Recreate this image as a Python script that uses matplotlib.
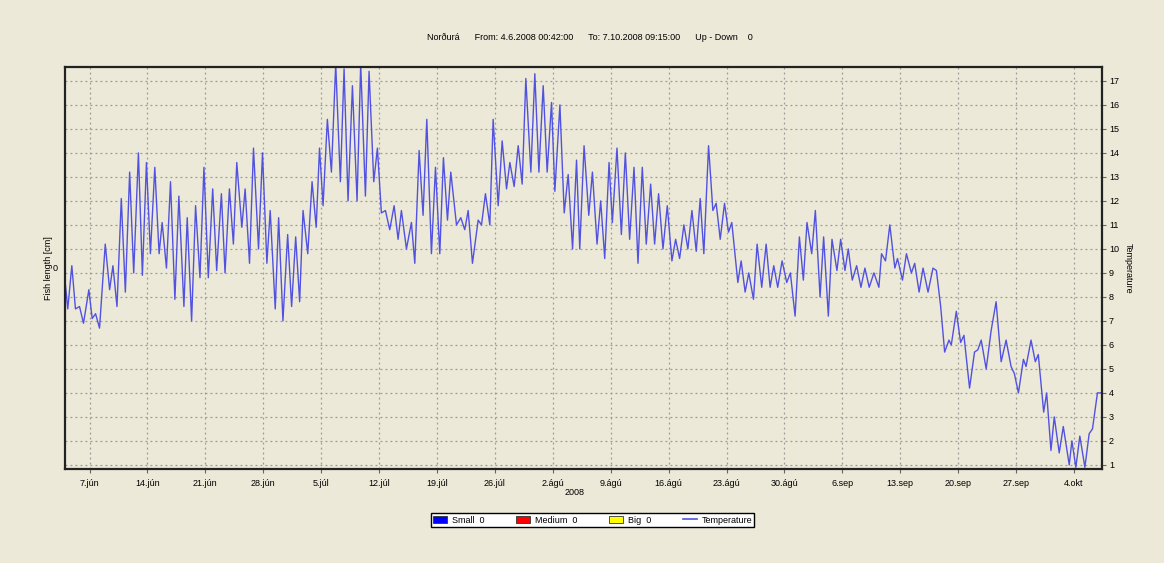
#!/usr/bin/env python3
import matplotlib
matplotlib.use("Agg")
import matplotlib.pyplot as plt
import matplotlib.dates as mdates
from matplotlib.patches import Patch
from matplotlib.lines import Line2D
import pandas as pd

# Temperature readings: days since 4.6.2008 00:00 and value
DAYS = [
    0.03, 0.37, 0.86, 1.30, 1.79, 2.27, 2.92, 3.32, 3.73, 4.21,
    4.90, 5.43, 5.83, 6.32, 6.84, 7.33, 7.85, 8.34, 8.91, 9.39,
    9.88, 10.36, 10.89, 11.41, 11.78, 12.30, 12.79, 13.32, 13.80, 14.41,
    14.81, 15.34, 15.82, 16.35, 16.83, 17.36, 17.89, 18.37, 18.94, 19.38,
    19.91, 20.39, 20.80, 21.41, 21.81, 22.34, 22.82, 23.43, 23.91, 24.44,
    24.84, 25.45, 25.86, 26.38, 26.95, 27.43, 27.92, 28.40, 28.81, 29.38,
    29.90, 30.40, 30.80, 31.23, 31.75, 32.24, 32.76, 33.32, 33.77, 34.25,
    34.78, 35.34, 35.78, 36.35, 36.79, 37.36, 37.80, 38.28, 38.77, 39.29,
    39.82, 40.30, 40.70, 41.31, 41.91, 42.32, 42.84, 43.32, 43.77, 44.33,
    44.82, 45.34, 45.78, 46.27, 46.67, 47.36, 47.88, 48.36, 48.77, 49.29,
    49.98, 50.38, 50.86, 51.39, 51.79, 52.40, 52.88, 53.41, 53.81, 54.33,
    54.82, 55.30, 55.74, 56.35, 56.83, 57.32, 57.84, 58.32, 58.85, 59.25,
    59.86, 60.38, 60.86, 61.39, 61.87, 62.26, 62.78, 63.35, 63.79, 64.35,
    64.79, 65.28, 65.80, 66.20, 66.76, 67.29, 67.77, 68.29, 68.82, 69.30,
    69.82, 70.30, 70.83, 71.31, 71.79, 72.32, 72.84, 73.40, 73.85, 74.33,
    74.85, 75.33, 75.82, 76.34, 76.82, 77.26, 77.83, 78.35, 78.75, 79.24,
    79.76, 80.24, 80.64, 81.37, 81.77, 82.25, 82.69, 83.26, 83.70, 84.26,
    84.79, 85.27, 85.71, 86.19, 86.72, 87.28, 87.72, 88.29, 88.81, 89.29,
    89.73, 90.30, 90.74, 91.31, 91.74, 92.31, 92.75, 93.35, 93.80, 94.32,
    94.72, 95.20, 95.73, 96.25, 96.73, 97.25, 97.82, 98.42, 98.74, 99.22,
    99.74, 100.35, 100.67, 101.27, 101.75, 102.35, 102.75, 103.28, 103.76, 104.36,
    104.96, 105.37, 105.89, 106.37, 106.89, 107.17, 107.78, 108.30, 108.70, 109.38,
    109.98, 110.39, 110.79, 111.39, 111.99, 112.59, 113.20, 113.80, 114.40, 114.80,
    115.29, 115.89, 116.21, 116.81, 117.33, 117.69, 118.34, 118.70, 119.22, 119.62,
    120.22, 120.71, 121.43, 121.75, 122.23, 122.71, 123.32, 123.84, 124.24, 124.84,
    125.38,
]
TEMPS = [
    8.7, 7.5, 9.3, 7.5, 7.6, 6.9, 8.3, 7.1, 7.3, 6.7,
    10.2, 8.3, 9.3, 7.6, 12.1, 8.2, 13.2, 9.0, 14.0, 8.9,
    13.6, 9.8, 13.4, 9.8, 11.1, 9.2, 12.8, 7.9, 12.2, 7.6,
    11.3, 7.0, 11.8, 8.8, 13.4, 8.8, 12.5, 9.1, 12.3, 9.0,
    12.5, 10.2, 13.6, 10.9, 12.5, 9.4, 14.2, 10.0, 14.0, 9.4,
    11.6, 7.5, 11.3, 7.0, 10.6, 7.6, 10.5, 7.8, 11.6, 9.8,
    12.8, 10.9, 14.2, 11.8, 15.4, 13.2, 17.7, 12.8, 17.5, 12.0,
    16.8, 12.0, 17.7, 12.2, 17.4, 12.8, 14.2, 11.5, 11.6, 10.8,
    11.8, 10.4, 11.6, 10.0, 11.1, 9.4, 14.1, 11.4, 15.4, 9.8,
    13.4, 9.8, 13.8, 11.2, 13.2, 11.0, 11.3, 10.8, 11.6, 9.4,
    11.2, 11.0, 12.3, 11.0, 15.4, 11.8, 14.5, 12.5, 13.6, 12.6,
    14.3, 12.7, 17.1, 13.2, 17.3, 13.2, 16.8, 13.2, 16.1, 12.4,
    16.0, 11.5, 13.1, 10.0, 13.7, 10.0, 14.3, 11.4, 13.2, 10.2,
    12.0, 9.6, 13.6, 11.1, 14.2, 10.6, 14.0, 10.4, 13.4, 9.4,
    13.4, 10.2, 12.7, 10.2, 12.3, 10.0, 11.8, 9.5, 10.4, 9.6,
    11.0, 10.0, 11.6, 9.9, 12.1, 9.8, 14.3, 11.6, 11.9, 10.4,
    11.9, 10.7, 11.1, 8.6, 9.5, 8.2, 9.0, 7.9, 10.2, 8.4,
    10.2, 8.4, 9.3, 8.4, 9.5, 8.6, 9.0, 7.2, 10.5, 8.7,
    11.1, 9.8, 11.6, 8.0, 10.5, 7.2, 10.4, 9.1, 10.4, 9.1,
    10.0, 8.7, 9.3, 8.4, 9.2, 8.4, 9.0, 8.4, 9.8, 9.5,
    11.0, 9.2, 9.6, 8.7, 9.8, 9.0, 9.4, 8.2, 9.2, 8.2,
    9.2, 9.1, 7.6, 5.7, 6.2, 6.0, 7.4, 6.1, 6.4, 4.2,
    5.7, 5.8, 6.2, 5.0, 6.6, 7.8, 5.3, 6.2, 5.1, 4.8,
    4.0, 5.4, 5.1, 6.2, 5.3, 5.6, 3.2, 4.0, 1.6, 3.0,
    1.5, 2.6, 1.0, 2.0, 0.9, 2.2, 0.9, 2.3, 2.5, 4.0,
    4.0,
]

TICK_LABELS = ['7.jún', '14.jún', '21.jún', '28.jún', '5.júl', '12.júl', '19.júl',
               '26.júl', '2.ágú', '9.ágú', '16.ágú', '23.ágú', '30.ágú', '6.sep',
               '13.sep', '20.sep', '27.sep', '4.okt']
LEGEND_LABELS = ['Small  0', 'Medium  0', 'Big  0', 'Temperature']
LEGEND_COLORS = ['#0000FF', '#FF0000', '#FFFF00', '#5252E0']

BG = '#ECE9D8'
LINE = '#5252E0'
plt.rcParams['font.family'] = ['Liberation Sans', 'DejaVu Sans']

times = pd.Timestamp('2008-06-04') + pd.to_timedelta(DAYS, unit='D')

fig = plt.figure(figsize=(11.64, 5.63), dpi=100, facecolor=BG)
ax = fig.add_axes([0.0558, 0.167, 0.8909, 0.714], facecolor=BG)
# fish length axis on the left (empty, single tick at 0)
axl = ax.twinx()

ax.plot(times, TEMPS, color=LINE, lw=1.0, solid_joinstyle='round')

ax.set_xlim(pd.Timestamp('2008-06-04 00:42'), pd.Timestamp('2008-10-07 09:15'))
ax.set_ylim(0.83, 17.58)

# temperature axis on the right
ax.yaxis.tick_right()
ax.yaxis.set_label_position('right')
ax.set_yticks(range(1, 18))
ax.tick_params(axis='y', labelsize=6.5, length=3, color='#666666', pad=2,
               left=False, labelleft=False, right=True, labelright=True)
ax.set_ylabel('Temperature', fontsize=6.5, rotation=270, labelpad=10)

tick_dates = pd.date_range('2008-06-07', periods=len(TICK_LABELS), freq='7D')
ax.set_xticks(mdates.date2num(tick_dates))
ax.set_xticklabels(TICK_LABELS)
ax.tick_params(axis='x', labelsize=6.5, length=3, color='#666666', pad=4)

ax.grid(True, color='#9A9A9A', linestyle=(0, (1.5, 2.5)), lw=0.9)
for s in ax.spines.values():
    s.set_linewidth(1.6)
    s.set_color('#222222')

axl.set_ylim(-1, 1)
axl.yaxis.tick_left()
axl.yaxis.set_label_position('left')
axl.set_yticks([0])
axl.tick_params(axis='y', labelsize=6.5, length=0, pad=5,
                right=False, labelright=False, left=True, labelleft=True)
axl.set_ylabel('Fish length [cm]', fontsize=6.5, labelpad=0)
for s in axl.spines.values():
    s.set_visible(False)

fig.text(0.507, 0.933,
         'Norðurá      From: 4.6.2008 00:42:00      To: 7.10.2008 09:15:00      Up - Down    0',
         ha='center', va='center', fontsize=6.5)
fig.text(0.494, 0.126, '2008', ha='center', va='center', fontsize=6.5)

handles = [Patch(facecolor=c, edgecolor='#333333', lw=0.6) for c in LEGEND_COLORS[:3]]
handles.append(Line2D([], [], color=LEGEND_COLORS[3], lw=1.2))
leg = fig.legend(handles, LEGEND_LABELS, loc='center', bbox_to_anchor=(0.509, 0.076),
                 ncol=4, fontsize=6.5, frameon=True, fancybox=False,
                 handlelength=1.6, handleheight=0.9, columnspacing=3.5,
                 borderpad=0.25, handletextpad=0.5)
leg.get_frame().set_edgecolor('black')
leg.get_frame().set_linewidth(1.0)
leg.get_frame().set_facecolor('white')
leg.get_frame().set_alpha(1)

fig.savefig('out.png', dpi=100, facecolor=BG)
